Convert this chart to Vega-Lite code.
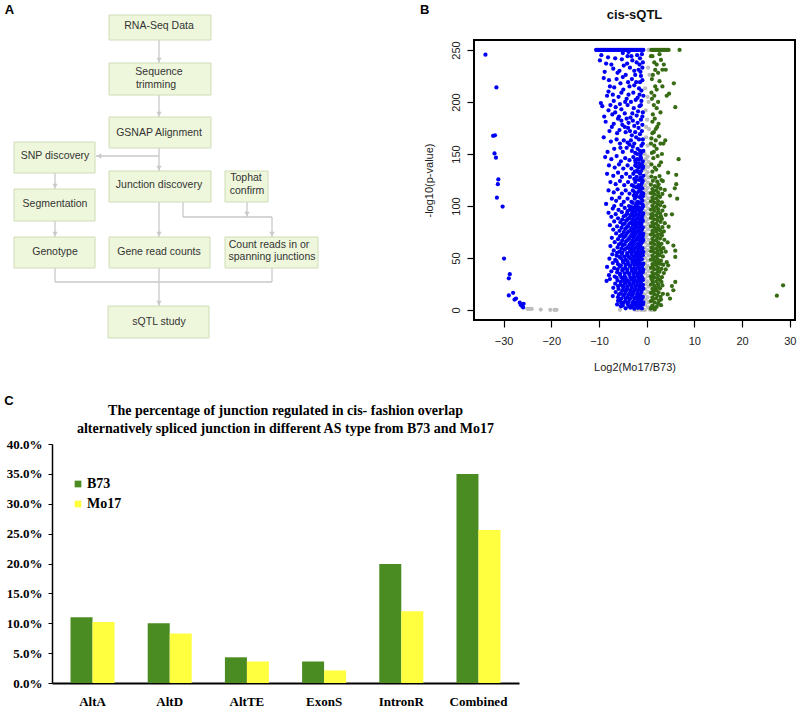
{
"$schema":"https://vega.github.io/schema/vega-lite/v6.json",
"background":"white",
"padding":{"left":4,"top":4,"right":0,"bottom":0},
"autosize":{"type":"pad"},
"bounds":"flush",
"columns":2,
"align":{"row":"each","column":"none"},
"spacing":{"row":124,"column":-45},
"config":{"view":{"stroke":null},"font":"Liberation Sans"},
"datasets":{
"boxes":[
{"x1":109,"x2":211,"y1":16,"y2":41},
{"x1":109,"x2":211,"y1":64,"y2":96},
{"x1":109,"x2":211,"y1":118,"y2":149},
{"x1":14,"x2":95,"y1":143,"y2":174},
{"x1":109,"x2":211,"y1":172,"y2":203},
{"x1":225,"x2":268,"y1":172,"y2":203},
{"x1":14,"x2":95,"y1":190,"y2":222},
{"x1":14,"x2":95,"y1":238,"y2":269},
{"x1":109,"x2":210,"y1":238,"y2":269},
{"x1":225,"x2":318,"y1":238,"y2":269},
{"x1":108,"x2":209,"y1":307,"y2":339}
],
"links":[
{"x1":159,"y1":41,"x2":159,"y2":64},
{"x1":159,"y1":96,"x2":159,"y2":118},
{"x1":159,"y1":149,"x2":159,"y2":172},
{"x1":159,"y1":157,"x2":96,"y2":157},
{"x1":55,"y1":174,"x2":55,"y2":190},
{"x1":55,"y1":222,"x2":55,"y2":238},
{"x1":159,"y1":203,"x2":159,"y2":238},
{"x1":183,"y1":203,"x2":183,"y2":218},
{"x1":183,"y1":218,"x2":272,"y2":218},
{"x1":272,"y1":218,"x2":272,"y2":238},
{"x1":247,"y1":203,"x2":247,"y2":218},
{"x1":55,"y1":269,"x2":55,"y2":283},
{"x1":55,"y1":283,"x2":272,"y2":283},
{"x1":272,"y1":283,"x2":272,"y2":269},
{"x1":159,"y1":269,"x2":159,"y2":307}
],
"arrows":[
{"x":159,"y":61,"dir":"down"},
{"x":159,"y":115,"dir":"down"},
{"x":159,"y":169,"dir":"down"},
{"x":55,"y":187,"dir":"down"},
{"x":55,"y":235,"dir":"down"},
{"x":159,"y":235,"dir":"down"},
{"x":272,"y":235,"dir":"down"},
{"x":247,"y":215,"dir":"down"},
{"x":159,"y":304,"dir":"down"},
{"x":99,"y":157,"dir":"left"}
],
"boxtext":[
{"x":159,"y":27,"t":"RNA-Seq Data"},
{"x":159,"y":73,"t":"Sequence"},
{"x":156,"y":86,"t":"trimming"},
{"x":159,"y":134,"t":"GSNAP Alignment"},
{"x":55,"y":157,"t":"SNP discovery"},
{"x":159,"y":186,"t":"Junction discovery"},
{"x":246,"y":179,"t":"Tophat"},
{"x":247,"y":192,"t":"confirm"},
{"x":55,"y":205,"t":"Segmentation"},
{"x":55,"y":253,"t":"Genotype"},
{"x":159,"y":253,"t":"Gene read counts"},
{"x":269,"y":246,"t":"Count reads in or"},
{"x":272,"y":258,"t":"spanning junctions"},
{"x":159,"y":323,"t":"sQTL study"}
],
"letters":[
{"x":9.5,"y":11,"t":"A"},
{"x":424.7,"y":11,"t":"B"},
{"x":9,"y":402,"t":"C"}
],
"bars":[
{"type":"AltA","line":"B73","pct":0.110},
{"type":"AltA","line":"Mo17","pct":0.102},
{"type":"AltD","line":"B73","pct":0.100},
{"type":"AltD","line":"Mo17","pct":0.083},
{"type":"AltTE","line":"B73","pct":0.043},
{"type":"AltTE","line":"Mo17","pct":0.036},
{"type":"ExonS","line":"B73","pct":0.036},
{"type":"ExonS","line":"Mo17","pct":0.021},
{"type":"IntronR","line":"B73","pct":0.199},
{"type":"IntronR","line":"Mo17","pct":0.120},
{"type":"Combined","line":"B73","pct":0.350},
{"type":"Combined","line":"Mo17","pct":0.256}
],
"gray":[
{"x":-0.4,"y":0},{"x":-0.3,"y":5},{"x":-0.2,"y":10},{"x":-0.4,"y":15},{"x":-0.3,"y":20},{"x":-0.2,"y":25},{"x":-0.4,"y":30},{"x":-0.3,"y":35},{"x":-0.2,"y":40},{"x":-0.4,"y":45},{"x":-0.3,"y":50},{"x":-0.2,"y":55},{"x":-0.4,"y":60},{"x":-0.3,"y":65},{"x":-0.2,"y":70},{"x":-0.4,"y":75},{"x":-0.3,"y":80},{"x":-0.2,"y":85},{"x":-0.4,"y":90},{"x":-0.3,"y":95},{"x":-0.2,"y":100},{"x":-0.4,"y":105},{"x":-0.3,"y":110},{"x":-0.2,"y":115},{"x":-0.4,"y":120},{"x":-0.3,"y":125},{"x":-0.2,"y":130},{"x":-0.4,"y":135},{"x":-0.3,"y":140},{"x":-0.2,"y":145},{"x":-0.4,"y":150},
{"x":0.3,"y":2.5},{"x":0.4,"y":7.5},{"x":0.2,"y":12.5},{"x":0.3,"y":17.5},{"x":0.4,"y":22.5},{"x":0.2,"y":27.5},{"x":0.3,"y":32.5},{"x":0.4,"y":37.5},{"x":0.2,"y":42.5},{"x":0.3,"y":47.5},{"x":0.4,"y":52.5},{"x":0.2,"y":57.5},{"x":0.3,"y":62.5},{"x":0.4,"y":67.5},{"x":0.2,"y":72.5},{"x":0.3,"y":77.5},{"x":0.4,"y":82.5},{"x":0.2,"y":87.5},{"x":0.3,"y":92.5},{"x":0.4,"y":97.5},{"x":0.2,"y":102.5},{"x":0.3,"y":107.5},{"x":0.4,"y":112.5},{"x":0.2,"y":117.5},{"x":0.3,"y":122.5},{"x":0.4,"y":127.5},{"x":0.2,"y":132.5},{"x":0.3,"y":137.5},{"x":0.4,"y":142.5},{"x":0.2,"y":147.5},
{"x":0.2,"y":158},{"x":-0.1,"y":166},{"x":0.5,"y":174},{"x":0.1,"y":183},{"x":-0.2,"y":192},{"x":0.4,"y":200},{"x":-0.3,"y":213},{"x":0.6,"y":226},{"x":0.3,"y":233},{"x":0.4,"y":250},{"x":0.7,"y":250},{"x":-0.1,"y":176},{"x":0.2,"y":205},
{"x":-2.5,"y":0.3},{"x":-2.0,"y":0.1},{"x":-1.6,"y":0.5},{"x":-1.2,"y":0.2},{"x":-0.8,"y":0.4},{"x":0.7,"y":0.3},{"x":1.1,"y":0.1},{"x":1.5,"y":0.4},{"x":-5.6,"y":0.2},
{"x":-25,"y":1.2},{"x":-24.6,"y":1.1},{"x":-24.1,"y":1.0},{"x":-22.2,"y":0.4},{"x":-20.2,"y":0.2},{"x":-18.9,"y":0.2},{"x":-19.3,"y":0.1}
],
"blue":[
{"x":-10.6,"y":250},{"x":-10.3,"y":250},{"x":-10,"y":250},{"x":-9.7,"y":250},{"x":-9.4,"y":250},{"x":-9.1,"y":250},{"x":-8.8,"y":250},{"x":-8.5,"y":250},{"x":-8.2,"y":250},{"x":-7.9,"y":250},{"x":-7.6,"y":250},{"x":-7.3,"y":250},{"x":-7,"y":250},{"x":-6.7,"y":250},{"x":-6.4,"y":250},{"x":-6.1,"y":250},{"x":-5.8,"y":250},{"x":-5.5,"y":250},{"x":-5.2,"y":250},{"x":-4.9,"y":250},{"x":-4.6,"y":250},{"x":-4.3,"y":250},{"x":-4,"y":250},{"x":-3.7,"y":250},{"x":-3.4,"y":250},{"x":-3.1,"y":250},{"x":-2.8,"y":250},{"x":-2.5,"y":250},{"x":-2.2,"y":250},{"x":-1.9,"y":250},{"x":-1.6,"y":250},{"x":-1.3,"y":250},{"x":-1,"y":250},{"x":-0.7,"y":250},
{"x":-33.8,"y":245.5},{"x":-31.5,"y":214},{"x":-32.2,"y":167.5},{"x":-31.8,"y":168},{"x":-31.9,"y":150.5},{"x":-31.6,"y":146.5},{"x":-31.1,"y":125.5},{"x":-31.2,"y":121},{"x":-31.4,"y":108},{"x":-30.2,"y":99.5},{"x":-29.9,"y":49.5},{"x":-28.7,"y":34.5},{"x":-28.9,"y":30.5},{"x":-28.0,"y":16.5},{"x":-28.9,"y":14},{"x":-27.4,"y":11},{"x":-27.7,"y":10},{"x":-26.6,"y":7},{"x":-25.8,"y":6},{"x":-26.2,"y":4},{"x":-25.9,"y":2.5},{"x":-26.4,"y":5},
{"x":-9.5,"y":245},{"x":-8.1,"y":243},{"x":-6.6,"y":242},{"x":-5.2,"y":241},{"x":-4.0,"y":244},{"x":-3.0,"y":240},{"x":-2.1,"y":238},{"x":-1.4,"y":242},{"x":-7.4,"y":236},{"x":-4.8,"y":235},{"x":-3.5,"y":233},{"x":-2.6,"y":230},{"x":-1.7,"y":231},{"x":-8.8,"y":229},{"x":-6.1,"y":228},{"x":-4.4,"y":226},{"x":-1.2,"y":225},{"x":-3.1,"y":222},{"x":-2.2,"y":219},{"x":-5.5,"y":218},{"x":-7.7,"y":215},{"x":-6.8,"y":214},{"x":-4.9,"y":212},{"x":-3.6,"y":215},{"x":-1.6,"y":213},{"x":-2.8,"y":209},{"x":-8.3,"y":206},{"x":-5.9,"y":205},{"x":-4.2,"y":203},{"x":-1.9,"y":204},{"x":-1.1,"y":201},{"x":-3.3,"y":200},{"x":-6.9,"y":201},{"x":-7.9,"y":221},{"x":-9.0,"y":223},{"x":-2.4,"y":226},{"x":-0.9,"y":233},{"x":-5.0,"y":247},{"x":-3.8,"y":248},
{"x":-9.8,"y":240},{"x":-8.5,"y":237},{"x":-7.0,"y":232},{"x":-5.7,"y":230},{"x":-4.1,"y":237},{"x":-3.2,"y":244},{"x":-2.0,"y":245},{"x":-1.5,"y":236},{"x":-6.3,"y":222},{"x":-5.0,"y":224},{"x":-3.9,"y":219},{"x":-2.6,"y":216},{"x":-1.4,"y":219},{"x":-8.0,"y":210},{"x":-7.1,"y":207},{"x":-5.3,"y":209},{"x":-3.8,"y":207},{"x":-2.3,"y":202},{"x":-1.5,"y":207},{"x":-9.6,"y":199},{"x":-7.6,"y":197},{"x":-5.6,"y":198},{"x":-4.5,"y":200},{"x":-3.0,"y":189},{"x":-1.8,"y":191},{"x":-6.6,"y":190},{"x":-8.9,"y":186},{"x":-5.3,"y":182},{"x":-4.2,"y":184},{"x":-2.9,"y":182},{"x":-1.9,"y":180},{"x":-7.3,"y":176},{"x":-5.7,"y":173},{"x":-4.6,"y":176},{"x":-3.5,"y":172},{"x":-2.4,"y":171},{"x":-1.6,"y":164},{"x":-3.3,"y":163},{"x":-2.6,"y":160},{"x":-6.3,"y":164},{"x":-4.0,"y":161},{"x":-1.4,"y":153},{"x":-3.1,"y":153},{"x":-5.5,"y":156},
{"x":-9.3,"y":196},{"x":-8.0,"y":192},{"x":-6.5,"y":195},{"x":-5.3,"y":193},{"x":-4.0,"y":197},{"x":-2.7,"y":194},{"x":-1.5,"y":196},{"x":-0.8,"y":190},{"x":-7.2,"y":188},{"x":-5.8,"y":186},{"x":-4.6,"y":189},{"x":-3.4,"y":185},{"x":-2.1,"y":187},{"x":-1.2,"y":183},{"x":-8.6,"y":181},{"x":-6.9,"y":179},{"x":-5.1,"y":178},{"x":-3.8,"y":180},{"x":-2.6,"y":177},{"x":-1.7,"y":175},{"x":-0.9,"y":178},{"x":-7.8,"y":172},{"x":-6.2,"y":170},{"x":-4.4,"y":171},{"x":-3.1,"y":168},{"x":-2.2,"y":166},{"x":-1.4,"y":169},{"x":-0.8,"y":164},{"x":-9.0,"y":166},{"x":-7.5,"y":162},{"x":-5.6,"y":160},{"x":-4.8,"y":163},{"x":-3.6,"y":159},{"x":-2.9,"y":157},{"x":-1.9,"y":155},{"x":-1.1,"y":158},{"x":-6.8,"y":155},{"x":-8.2,"y":152},{"x":-5.0,"y":152},{"x":-2.4,"y":151},{"x":-0.7,"y":153},{"x":-3.9,"y":175},{"x":-6.0,"y":184},{"x":-4.2,"y":156},
{"x":-1.0,"y":246},{"x":-0.8,"y":238},{"x":-1.3,"y":229},{"x":-0.9,"y":221},{"x":-1.1,"y":211},{"x":-0.7,"y":206},{"x":-1.2,"y":197},{"x":-0.9,"y":186},{"x":-1.0,"y":172},{"x":-0.8,"y":160},
{"x":-8.7,"y":147},{"x":-7.4,"y":145},{"x":-6.3,"y":148},{"x":-5.4,"y":143},{"x":-4.5,"y":146},{"x":-3.6,"y":144},{"x":-2.8,"y":147},{"x":-2.0,"y":145},{"x":-1.3,"y":148},{"x":-0.8,"y":143},
{"x":-7.9,"y":139},{"x":-6.7,"y":137},{"x":-5.8,"y":140},{"x":-4.9,"y":136},{"x":-4.0,"y":139},{"x":-3.2,"y":136},{"x":-2.4,"y":139},{"x":-1.7,"y":137},{"x":-1.0,"y":140},
{"x":-8.3,"y":131},{"x":-7.0,"y":129},{"x":-6.0,"y":132},{"x":-5.2,"y":128},{"x":-4.3,"y":131},{"x":-3.5,"y":128},{"x":-2.8,"y":131},{"x":-2.1,"y":128},{"x":-1.4,"y":131},{"x":-0.7,"y":129},
{"x":-7.6,"y":123},{"x":-6.5,"y":121},{"x":-5.6,"y":124},{"x":-4.7,"y":120},{"x":-3.9,"y":123},{"x":-3.1,"y":120},{"x":-2.4,"y":123},{"x":-1.7,"y":120},{"x":-1.0,"y":122},
{"x":-8.0,"y":115},{"x":-6.9,"y":113},{"x":-6.1,"y":116},{"x":-5.2,"y":112},{"x":-4.4,"y":115},{"x":-3.6,"y":112},{"x":-2.9,"y":115},{"x":-2.1,"y":112},{"x":-1.4,"y":115},{"x":-0.7,"y":112},
{"x":-7.3,"y":107},{"x":-6.4,"y":105},{"x":-5.7,"y":108},{"x":-4.8,"y":104},{"x":-4.0,"y":107},{"x":-3.2,"y":104},{"x":-2.5,"y":107},{"x":-1.8,"y":104},{"x":-1.1,"y":107},
{"x":-8.5,"y":102},{"x":-6.8,"y":100},{"x":-5.3,"y":101},{"x":-3.7,"y":100},{"x":-2.2,"y":101},{"x":-0.8,"y":101},{"x":-1.5,"y":125},{"x":-2.0,"y":134},{"x":-0.9,"y":117},
{"x":-1.2,"y":146},{"x":-2.3,"y":142},{"x":-1.6,"y":141},{"x":-0.9,"y":136},{"x":-1.9,"y":133},{"x":-2.6,"y":126},{"x":-1.3,"y":127},{"x":-0.8,"y":124},{"x":-2.2,"y":118},{"x":-1.6,"y":117},{"x":-2.7,"y":110},{"x":-1.2,"y":110},{"x":-0.9,"y":105},{"x":-1.9,"y":102},
{"x":-2.9,"y":103},{"x":-2.0,"y":103.5},{"x":-1.3,"y":102.8},{"x":-2.2,"y":109},{"x":-1.5,"y":108.6},{"x":-0.8,"y":109.4},{"x":-2.5,"y":113},{"x":-1.7,"y":113.6},{"x":-1.0,"y":112.8},{"x":-2.7,"y":119},{"x":-1.9,"y":118.5},{"x":-1.2,"y":119.3},{"x":-2.2,"y":125},{"x":-1.0,"y":125.6},{"x":-2.5,"y":133},{"x":-1.2,"y":133.4},{"x":-2.1,"y":138},{"x":-1.3,"y":138.5},{"x":-0.7,"y":137.6},{"x":-2.4,"y":144},{"x":-1.6,"y":144.5},{"x":-2.0,"y":150},{"x":-1.2,"y":150.6},
{"x":-7.1,"y":97.5},{"x":-5.9,"y":96.2},{"x":-4.6,"y":98.1},{"x":-3.5,"y":96.8},{"x":-2.6,"y":97.9},{"x":-1.8,"y":96.4},{"x":-1.0,"y":97.6},
{"x":-8.0,"y":93.4},{"x":-6.5,"y":92.1},{"x":-5.2,"y":94.0},{"x":-4.1,"y":92.6},{"x":-3.0,"y":93.8},{"x":-2.2,"y":92.3},{"x":-1.4,"y":93.5},{"x":-0.7,"y":92.8},
{"x":-7.4,"y":89.6},{"x":-6.0,"y":88.2},{"x":-4.8,"y":90.1},{"x":-3.6,"y":88.7},{"x":-2.7,"y":89.9},{"x":-1.9,"y":88.4},{"x":-1.1,"y":89.3},
{"x":-6.8,"y":85.2},{"x":-5.5,"y":84.4},{"x":-4.3,"y":86.0},{"x":-3.2,"y":84.6},{"x":-2.4,"y":85.7},{"x":-1.6,"y":84.3},{"x":-0.8,"y":85.5},
{"x":-7.7,"y":81.5},{"x":-6.2,"y":80.3},{"x":-5.0,"y":82.0},{"x":-3.9,"y":80.6},{"x":-2.9,"y":81.8},{"x":-2.1,"y":80.2},{"x":-1.3,"y":81.4},
{"x":-7.0,"y":77.3},{"x":-5.7,"y":76.2},{"x":-4.5,"y":78.0},{"x":-3.4,"y":76.5},{"x":-2.6,"y":77.7},{"x":-1.8,"y":76.1},{"x":-1.0,"y":77.2},
{"x":-6.4,"y":73.6},{"x":-5.2,"y":72.3},{"x":-4.1,"y":74.0},{"x":-3.1,"y":72.5},{"x":-2.3,"y":73.8},{"x":-1.5,"y":72.2},{"x":-0.7,"y":73.3},
{"x":-7.3,"y":69.4},{"x":-6.0,"y":68.1},{"x":-4.8,"y":70.0},{"x":-3.7,"y":68.6},{"x":-2.8,"y":69.7},{"x":-2.0,"y":68.3},{"x":-1.2,"y":69.5},
{"x":-6.7,"y":65.2},{"x":-5.4,"y":64.3},{"x":-4.3,"y":66.0},{"x":-3.3,"y":64.5},{"x":-2.5,"y":65.8},{"x":-1.7,"y":64.1},{"x":-0.9,"y":65.4},
{"x":-7.6,"y":61.5},{"x":-6.1,"y":60.2},{"x":-5.0,"y":62.0},{"x":-3.9,"y":60.6},{"x":-3.0,"y":61.8},{"x":-2.2,"y":60.3},{"x":-1.4,"y":61.3},
{"x":-6.9,"y":57.3},{"x":-5.7,"y":56.1},{"x":-4.6,"y":58.0},{"x":-3.5,"y":56.6},{"x":-2.7,"y":57.7},{"x":-1.9,"y":56.2},{"x":-1.1,"y":57.4},{"x":-0.7,"y":55.9},
{"x":-7.2,"y":53.5},{"x":-6.3,"y":52.2},{"x":-5.2,"y":54.0},{"x":-4.1,"y":52.6},{"x":-3.2,"y":53.8},{"x":-2.4,"y":52.3},{"x":-1.6,"y":53.3},{"x":-0.8,"y":52.7},
{"x":-1.5,"y":95.1},{"x":-0.9,"y":87.2},{"x":-1.4,"y":79.3},{"x":-0.8,"y":71.1},{"x":-1.6,"y":63.0},{"x":-1.0,"y":55.2},{"x":-2.0,"y":99.0},{"x":-3.0,"y":90.9},{"x":-2.4,"y":75.2},{"x":-3.3,"y":59.1},
{"x":-7.8,"y":49.3},{"x":-6.6,"y":48.2},{"x":-5.4,"y":49.9},{"x":-4.4,"y":48.5},{"x":-3.4,"y":49.6},{"x":-2.6,"y":48.1},{"x":-1.8,"y":49.4},{"x":-1.0,"y":48.7},
{"x":-7.1,"y":45.2},{"x":-6.0,"y":44.1},{"x":-4.9,"y":45.9},{"x":-3.9,"y":44.4},{"x":-3.0,"y":45.6},{"x":-2.2,"y":44.2},{"x":-1.4,"y":45.3},{"x":-0.7,"y":44.6},
{"x":-8.3,"y":41.4},{"x":-6.8,"y":40.2},{"x":-5.6,"y":41.8},{"x":-4.5,"y":40.5},{"x":-3.5,"y":41.6},{"x":-2.6,"y":40.1},{"x":-1.8,"y":41.3},{"x":-1.0,"y":40.7},
{"x":-7.4,"y":37.2},{"x":-6.2,"y":36.3},{"x":-5.1,"y":37.9},{"x":-4.0,"y":36.4},{"x":-3.1,"y":37.6},{"x":-2.3,"y":36.2},{"x":-1.5,"y":37.4},{"x":-0.8,"y":36.6},
{"x":-7.9,"y":33.5},{"x":-6.7,"y":32.2},{"x":-5.6,"y":33.8},{"x":-4.6,"y":32.4},{"x":-3.6,"y":33.7},{"x":-2.7,"y":32.1},{"x":-1.9,"y":33.3},{"x":-1.1,"y":32.6},
{"x":-7.7,"y":29.8},{"x":-6.1,"y":28.3},{"x":-5.0,"y":29.9},{"x":-4.1,"y":28.5},{"x":-3.2,"y":29.6},{"x":-2.4,"y":28.2},{"x":-1.6,"y":29.4},{"x":-0.8,"y":28.7},
{"x":-6.6,"y":25.3},{"x":-5.5,"y":24.2},{"x":-4.5,"y":25.8},{"x":-3.6,"y":24.4},{"x":-2.8,"y":25.6},{"x":-2.0,"y":24.1},{"x":-1.2,"y":25.2},
{"x":-7.0,"y":21.4},{"x":-5.9,"y":20.3},{"x":-4.9,"y":21.9},{"x":-4.0,"y":20.5},{"x":-3.1,"y":21.7},{"x":-2.3,"y":20.2},{"x":-1.5,"y":21.3},{"x":-0.7,"y":20.6},
{"x":-6.5,"y":17.2},{"x":-5.4,"y":16.3},{"x":-4.4,"y":17.8},{"x":-3.5,"y":16.4},{"x":-2.7,"y":17.6},{"x":-1.9,"y":16.2},{"x":-1.1,"y":17.3},
{"x":-7.1,"y":13.4},{"x":-6.0,"y":12.3},{"x":-4.9,"y":13.9},{"x":-4.0,"y":12.5},{"x":-3.1,"y":13.6},{"x":-2.3,"y":12.2},{"x":-1.5,"y":13.3},{"x":-0.8,"y":12.6},
{"x":-5.6,"y":9.2},{"x":-4.5,"y":8.3},{"x":-3.6,"y":9.8},{"x":-2.7,"y":8.4},{"x":-1.9,"y":9.6},{"x":-1.1,"y":8.2},
{"x":-6.2,"y":5.4},{"x":-5.0,"y":4.3},{"x":-4.0,"y":5.9},{"x":-3.1,"y":4.5},{"x":-2.3,"y":5.6},{"x":-1.5,"y":4.2},{"x":-0.8,"y":5.3},
{"x":-4.4,"y":1.6},{"x":-3.4,"y":2.2},{"x":-2.6,"y":1.3},{"x":-1.8,"y":2.0},{"x":-1.0,"y":1.5},
{"x":-8.4,"y":28.0},{"x":-6.0,"y":8.8},{"x":-5.3,"y":6.6},{"x":-1.4,"y":11.0},{"x":-0.9,"y":23.0},{"x":-1.3,"y":35.0},{"x":-0.9,"y":43.0},{"x":-2.0,"y":47.0},
{"x":-5.4,"y":3.5},{"x":-3.8,"y":3.8},{"x":-2.9,"y":3.2},{"x":-2.0,"y":3.6},{"x":-1.3,"y":3.1},
{"x":-4.9,"y":7.0},{"x":-3.9,"y":7.3},{"x":-3.0,"y":6.8},{"x":-2.1,"y":7.2},{"x":-1.4,"y":6.9},{"x":-0.7,"y":7.4},
{"x":-5.3,"y":11.0},{"x":-4.4,"y":11.3},{"x":-3.5,"y":10.8},{"x":-2.6,"y":11.2},{"x":-1.8,"y":10.9},{"x":-1.0,"y":11.4},
{"x":-5.8,"y":15.0},{"x":-4.6,"y":15.3},{"x":-3.8,"y":14.8},{"x":-2.9,"y":15.2},{"x":-2.0,"y":14.9},{"x":-1.3,"y":15.4},
{"x":-5.1,"y":19.0},{"x":-4.3,"y":19.3},{"x":-3.4,"y":18.8},{"x":-2.6,"y":19.2},{"x":-1.8,"y":18.9},{"x":-1.0,"y":19.4},
{"x":-6.0,"y":23.0},{"x":-5.0,"y":23.3},{"x":-4.1,"y":22.8},{"x":-3.2,"y":23.2},{"x":-2.3,"y":22.9},{"x":-1.6,"y":23.4},{"x":-0.8,"y":24.2},
{"x":-5.4,"y":27.0},{"x":-4.6,"y":27.3},{"x":-3.7,"y":26.8},{"x":-2.8,"y":27.2},{"x":-2.0,"y":26.9},{"x":-1.2,"y":27.4},
{"x":-6.3,"y":31.0},{"x":-5.3,"y":31.3},{"x":-4.4,"y":30.8},{"x":-3.4,"y":31.2},{"x":-2.5,"y":30.9},{"x":-1.7,"y":31.4},{"x":-0.9,"y":30.6},
{"x":-5.6,"y":35.0},{"x":-4.6,"y":35.3},{"x":-3.6,"y":34.8},{"x":-2.7,"y":35.2},{"x":-1.9,"y":34.9},{"x":-1.1,"y":35.4},
{"x":-6.1,"y":39.0},{"x":-5.0,"y":39.3},{"x":-4.1,"y":38.8},{"x":-3.1,"y":39.2},{"x":-2.3,"y":38.9},{"x":-1.5,"y":39.4},{"x":-0.7,"y":38.6},
{"x":-5.4,"y":43.0},{"x":-4.4,"y":43.3},{"x":-3.4,"y":42.8},{"x":-2.6,"y":43.2},{"x":-1.8,"y":42.9},{"x":-1.1,"y":43.4},
{"x":-6.3,"y":47.0},{"x":-5.0,"y":47.3},{"x":-4.0,"y":46.8},{"x":-3.0,"y":47.2},{"x":-2.3,"y":46.9},{"x":-1.5,"y":47.4},
{"x":-5.7,"y":51.0},{"x":-4.7,"y":51.3},{"x":-3.7,"y":50.8},{"x":-2.8,"y":51.2},{"x":-2.0,"y":50.9},{"x":-1.2,"y":51.4},
{"x":-6.2,"y":55.0},{"x":-5.1,"y":55.3},{"x":-4.1,"y":54.8},{"x":-3.1,"y":55.2},{"x":-2.3,"y":54.9},{"x":-1.5,"y":55.4},
{"x":-5.3,"y":59.0},{"x":-4.3,"y":59.3},{"x":-3.5,"y":58.8},{"x":-2.6,"y":59.2},{"x":-1.8,"y":58.9},{"x":-0.9,"y":59.4},
{"x":-5.8,"y":63.0},{"x":-4.6,"y":63.3},{"x":-3.6,"y":62.8},{"x":-2.8,"y":63.2},{"x":-2.0,"y":62.9},{"x":-1.2,"y":63.4},
{"x":-5.1,"y":67.0},{"x":-4.0,"y":67.3},{"x":-3.0,"y":66.8},{"x":-2.2,"y":67.2},{"x":-1.4,"y":66.9},{"x":-0.7,"y":67.4},
{"x":-5.6,"y":71.0},{"x":-4.4,"y":71.3},{"x":-3.4,"y":70.8},{"x":-2.5,"y":71.2},{"x":-1.7,"y":70.9},{"x":-1.0,"y":71.4},
{"x":-4.8,"y":75.0},{"x":-3.8,"y":75.3},{"x":-2.9,"y":74.8},{"x":-2.0,"y":75.2},{"x":-1.2,"y":74.9},
{"x":-5.3,"y":79.0},{"x":-4.2,"y":79.3},{"x":-3.2,"y":78.8},{"x":-2.4,"y":79.2},{"x":-1.6,"y":78.9},{"x":-0.8,"y":79.4},
{"x":-4.6,"y":83.0},{"x":-3.6,"y":83.3},{"x":-2.6,"y":82.8},{"x":-1.9,"y":83.2},{"x":-1.1,"y":82.9},
{"x":-5.1,"y":87.0},{"x":-4.0,"y":87.3},{"x":-3.0,"y":86.8},{"x":-2.2,"y":87.2},{"x":-1.4,"y":86.9},
{"x":-4.4,"y":91.0},{"x":-3.4,"y":91.3},{"x":-2.5,"y":90.8},{"x":-1.7,"y":91.2},{"x":-0.9,"y":90.9},
{"x":-4.0,"y":95.0},{"x":-3.0,"y":95.3},{"x":-2.3,"y":94.8},{"x":-1.2,"y":95.2},
{"x":-3.2,"y":99.0},{"x":-2.4,"y":99.3},{"x":-1.6,"y":98.8},{"x":-0.8,"y":99.2}
],
"green":[
{"x":1.0,"y":250},{"x":1.3,"y":250},{"x":1.6,"y":250},{"x":1.9,"y":250},{"x":2.2,"y":250},{"x":2.5,"y":250},{"x":2.8,"y":250},{"x":3.1,"y":250},{"x":3.4,"y":250},{"x":3.7,"y":250},{"x":4.0,"y":250},{"x":4.3,"y":250},{"x":4.6,"y":250},{"x":6.9,"y":250},
{"x":3.0,"y":240.4},{"x":2.1,"y":236},{"x":4.0,"y":231},{"x":1.8,"y":230.8},{"x":3.3,"y":231},{"x":5.7,"y":218},{"x":4.7,"y":208},{"x":4.2,"y":206},{"x":1.8,"y":215},{"x":2.1,"y":212},{"x":1.1,"y":203},{"x":6.0,"y":195},{"x":1.5,"y":197},{"x":2.9,"y":190},{"x":2.5,"y":179},{"x":1.9,"y":174},{"x":1.5,"y":171},{"x":3.9,"y":163},{"x":3.5,"y":160},{"x":2.1,"y":155},{"x":1.5,"y":152},{"x":6.7,"y":145},{"x":6.2,"y":130},{"x":6.2,"y":121},{"x":5.9,"y":117},{"x":6.4,"y":107},{"x":4.9,"y":110},{"x":4.5,"y":132},{"x":3.4,"y":124},{"x":5.3,"y":92},{"x":5.6,"y":62},{"x":6.0,"y":57},{"x":6.0,"y":51},{"x":4.4,"y":65},{"x":4.2,"y":46},{"x":4.5,"y":43},{"x":4.0,"y":39},{"x":6.0,"y":27},{"x":5.3,"y":23},{"x":5.6,"y":19},{"x":4.4,"y":15},{"x":4.9,"y":11},
{"x":1.0,"y":140},{"x":1.4,"y":146},{"x":0.9,"y":160},{"x":1.2,"y":181},{"x":2.6,"y":167},{"x":1.7,"y":137},{"x":3.0,"y":142},{"x":2.3,"y":148},{"x":1.1,"y":222},{"x":0.9,"y":244},{"x":1.3,"y":188},{"x":2.4,"y":200},{"x":1.0,"y":165},{"x":1.6,"y":158},{"x":3.2,"y":150},
{"x":1.2,"y":133},{"x":2.0,"y":135},{"x":2.6,"y":139},{"x":1.1,"y":151},{"x":1.9,"y":163},{"x":1.2,"y":170},{"x":2.2,"y":176},{"x":1.7,"y":184},{"x":2.1,"y":194},{"x":1.0,"y":209},{"x":1.6,"y":206},{"x":2.7,"y":220},{"x":1.3,"y":226},{"x":2.4,"y":228},{"x":1.6,"y":238},{"x":1.2,"y":244},{"x":2.7,"y":246},{"x":3.6,"y":236},{"x":3.3,"y":215},{"x":2.9,"y":160},
{"x":1.0,"y":128.3},{"x":1.8,"y":127.1},{"x":2.7,"y":128.8},
{"x":1.3,"y":124.2},{"x":2.2,"y":123.4},{"x":3.1,"y":124.9},
{"x":0.9,"y":120.5},{"x":1.7,"y":119.2},{"x":2.5,"y":120.8},
{"x":1.2,"y":116.3},{"x":2.0,"y":115.1},{"x":2.9,"y":116.7},{"x":3.8,"y":115.5},
{"x":0.9,"y":112.4},{"x":1.6,"y":111.2},{"x":2.4,"y":112.9},{"x":3.3,"y":111.6},
{"x":1.2,"y":108.2},{"x":2.0,"y":107.3},{"x":2.8,"y":108.7},
{"x":0.9,"y":104.5},{"x":1.6,"y":103.2},{"x":2.4,"y":104.8},{"x":3.2,"y":103.6},
{"x":1.2,"y":100.3},{"x":2.0,"y":99.1},{"x":2.8,"y":100.7},{"x":3.7,"y":99.5},
{"x":0.9,"y":96.4},{"x":1.6,"y":95.2},{"x":2.4,"y":96.9},{"x":3.3,"y":95.6},
{"x":1.2,"y":92.2},{"x":2.0,"y":91.3},{"x":2.8,"y":92.7},{"x":4.0,"y":91.5},
{"x":0.9,"y":88.5},{"x":1.6,"y":87.2},{"x":2.4,"y":88.8},{"x":3.2,"y":87.6},
{"x":1.2,"y":84.3},{"x":2.0,"y":83.1},{"x":2.9,"y":84.7},{"x":3.8,"y":83.5},
{"x":0.9,"y":80.4},{"x":1.6,"y":79.2},{"x":2.4,"y":80.9},{"x":3.3,"y":79.6},{"x":4.6,"y":80.1},
{"x":1.2,"y":76.2},{"x":2.0,"y":75.3},{"x":2.8,"y":76.7},{"x":3.6,"y":75.5},
{"x":0.9,"y":72.5},{"x":1.6,"y":71.2},{"x":2.4,"y":72.8},{"x":3.2,"y":71.6},
{"x":1.2,"y":68.3},{"x":2.0,"y":67.1},{"x":2.8,"y":68.7},{"x":3.7,"y":67.5},
{"x":0.9,"y":64.4},{"x":1.6,"y":63.2},{"x":2.4,"y":64.9},{"x":3.1,"y":63.6},
{"x":1.2,"y":60.2},{"x":2.0,"y":59.3},{"x":2.7,"y":60.7},{"x":3.5,"y":59.5},
{"x":0.9,"y":56.5},{"x":1.6,"y":55.2},{"x":2.3,"y":56.8},{"x":3.1,"y":55.6},{"x":4.0,"y":56.1},
{"x":1.2,"y":52.3},{"x":2.0,"y":51.1},{"x":2.7,"y":52.7},{"x":3.4,"y":51.5},
{"x":0.9,"y":48.4},{"x":1.6,"y":47.2},{"x":2.3,"y":48.9},{"x":3.0,"y":47.6},
{"x":1.2,"y":44.2},{"x":2.0,"y":43.3},{"x":2.7,"y":44.7},{"x":3.5,"y":43.5},
{"x":0.9,"y":40.5},{"x":1.6,"y":39.2},{"x":2.4,"y":40.8},{"x":3.1,"y":39.6},
{"x":1.2,"y":36.3},{"x":2.0,"y":35.1},{"x":2.7,"y":36.7},{"x":3.6,"y":35.5},
{"x":0.9,"y":32.4},{"x":1.6,"y":31.2},{"x":2.4,"y":32.9},{"x":3.2,"y":31.6},
{"x":1.2,"y":28.2},{"x":2.0,"y":27.3},{"x":2.8,"y":28.7},
{"x":0.9,"y":24.5},{"x":1.6,"y":23.2},{"x":2.4,"y":24.8},{"x":3.3,"y":23.6},
{"x":1.2,"y":20.3},{"x":2.0,"y":19.1},{"x":2.8,"y":20.7},
{"x":0.9,"y":16.4},{"x":1.6,"y":15.2},{"x":2.5,"y":16.9},{"x":3.4,"y":15.6},
{"x":1.2,"y":12.2},{"x":2.0,"y":11.3},{"x":2.9,"y":12.7},
{"x":0.9,"y":8.5},{"x":1.7,"y":7.2},{"x":2.6,"y":8.8},
{"x":1.2,"y":4.3},{"x":2.1,"y":3.1},{"x":3.0,"y":4.7},
{"x":0.9,"y":1.4},{"x":1.7,"y":0.6},
{"x":1.4,"y":2.2},{"x":2.4,"y":6.1},{"x":1.3,"y":10.3},{"x":2.2,"y":14.1},{"x":3.0,"y":10.0},{"x":1.4,"y":18.2},{"x":2.4,"y":22.3},{"x":1.3,"y":26.1},{"x":2.3,"y":30.2},{"x":3.1,"y":27.0},{"x":1.4,"y":34.1},{"x":2.3,"y":38.3},{"x":1.3,"y":42.2},{"x":2.4,"y":46.1},{"x":3.2,"y":44.0},{"x":1.4,"y":50.2},{"x":2.3,"y":54.0},{"x":1.3,"y":58.1},{"x":2.4,"y":62.3},{"x":3.0,"y":58.0},{"x":1.4,"y":66.2},{"x":2.3,"y":70.1},{"x":1.3,"y":74.2},{"x":2.4,"y":78.3},{"x":3.1,"y":73.5},{"x":1.4,"y":82.1},{"x":2.3,"y":86.2},{"x":1.3,"y":90.3},{"x":2.4,"y":94.1},{"x":3.0,"y":90.0},{"x":1.4,"y":98.2},{"x":2.3,"y":102.1},{"x":1.3,"y":106.2},{"x":2.4,"y":110.3},{"x":1.4,"y":114.1},{"x":2.3,"y":118.2},{"x":1.0,"y":2.5},{"x":1.0,"y":30.0},{"x":1.0,"y":60.0},{"x":1.0,"y":92.0},{"x":1.9,"y":45.0},{"x":1.9,"y":78.0},{"x":1.9,"y":20.0},
{"x":27.3,"y":13.8},{"x":28.6,"y":23.7}
]
},
"concat":[
{
"width":467,"height":280,
"layer":[
{"data":{"name":"links"},"mark":{"type":"rule","color":"#c9c9c9","strokeWidth":1.3},
 "encoding":{"x":{"field":"x1","type":"quantitative","scale":{"domain":[52,519],"nice":false,"zero":false},"axis":null},"x2":{"field":"x2"},
 "y":{"field":"y1","type":"quantitative","scale":{"domain":[41,321],"reverse":true,"nice":false,"zero":false},"axis":null},"y2":{"field":"y2"}}},
{"data":{"name":"boxes"},"mark":{"type":"rect","fill":"#eef7dc","stroke":"#cfdcb8","strokeWidth":1},
 "encoding":{"x":{"field":"x1","type":"quantitative","scale":{"domain":[52,519],"nice":false,"zero":false},"axis":null},"x2":{"field":"x2"},
 "y":{"field":"y1","type":"quantitative","scale":{"domain":[41,321],"reverse":true,"nice":false,"zero":false},"axis":null},"y2":{"field":"y2"}}},
{"data":{"name":"arrows"},"mark":{"type":"point","filled":true,"size":28,"color":"#c9c9c9","opacity":1},
 "encoding":{"x":{"field":"x","type":"quantitative","scale":{"domain":[52,519],"nice":false,"zero":false},"axis":null},
 "y":{"field":"y","type":"quantitative","scale":{"domain":[41,321],"reverse":true,"nice":false,"zero":false},"axis":null},
 "shape":{"field":"dir","type":"nominal","scale":{"domain":["down","left"],"range":["triangle-down","triangle-left"]},"legend":null}}},
{"data":{"name":"boxtext"},"mark":{"type":"text","font":"Liberation Sans","fontSize":10.5,"color":"#333333","align":"center","baseline":"middle"},
 "encoding":{"x":{"field":"x","type":"quantitative","scale":{"domain":[52,519],"nice":false,"zero":false},"axis":null},
 "y":{"field":"y","type":"quantitative","scale":{"domain":[41,321],"reverse":true,"nice":false,"zero":false},"axis":null},
 "text":{"field":"t","type":"nominal"}}},
{"data":{"name":"letters"},"mark":{"type":"text","font":"Liberation Sans","fontSize":13,"fontWeight":"bold","color":"#000000","align":"center","baseline":"middle"},
 "encoding":{"x":{"field":"x","type":"quantitative","scale":{"domain":[52,519],"nice":false,"zero":false},"axis":null},
 "y":{"field":"y","type":"quantitative","scale":{"domain":[41,321],"reverse":true,"nice":false,"zero":false},"axis":null},
 "text":{"field":"t","type":"nominal"}}}
]
},
{
"width":321,"height":280,
"view":{"stroke":"#000000","strokeWidth":2},
"title":{"text":"cis-sQTL","font":"Liberation Sans","fontSize":13,"fontWeight":"bold","color":"#111111","anchor":"middle","offset":18},
"encoding":{
 "x":{"field":"x","type":"quantitative","scale":{"domain":[-36.2,31.1],"nice":false,"zero":false},
  "axis":{"values":[-30,-20,-10,0,10,20,30],"domain":false,"grid":false,"tickColor":"#000000","tickSize":7,"tickWidth":1.2,"labelFont":"Liberation Sans","labelFontSize":11,"labelColor":"#222222","labelPadding":8,"labelFlush":false,"labelOverlap":false,"title":"Log2(Mo17/B73)","titleFont":"Liberation Sans","titleFontSize":11,"titleFontWeight":"normal","titleColor":"#222222","titlePadding":15}},
 "y":{"field":"y","type":"quantitative","scale":{"domain":[-9.6,259.6],"nice":false,"zero":false},
  "axis":{"values":[0,50,100,150,200,250],"domain":false,"grid":false,"tickColor":"#000000","tickSize":7,"tickWidth":1.2,"labelAngle":-90,"labelAlign":"center","labelBaseline":"bottom","labelPadding":6,"labelFont":"Liberation Sans","labelFontSize":11,"labelColor":"#222222","labelFlush":false,"labelOverlap":false,"title":"-log10(p-value)","titleFont":"Liberation Sans","titleFontSize":11,"titleFontWeight":"normal","titleColor":"#222222","titlePadding":16}}
},
"layer":[
 {"data":{"name":"gray"},"mark":{"type":"circle","size":18,"opacity":1,"color":"#bebebe"}},
 {"data":{"name":"blue"},"mark":{"type":"circle","size":18,"opacity":1,"color":"#0000f5"}},
 {"data":{"name":"green"},"mark":{"type":"circle","size":18,"opacity":1,"color":"#376b14"}}
]
},
{
"width":467,"height":239,
"data":{"name":"bars"},
"title":{"text":["The percentage of junction regulated in cis- fashion overlap","alternatively spliced junction in different AS type from B73 and Mo17"],"font":"Liberation Serif","fontSize":14,"fontWeight":"bold","lineHeight":18,"color":"#000000","anchor":"middle","offset":2},
"mark":{"type":"bar"},
"encoding":{
 "x":{"field":"type","type":"nominal","sort":["AltA","AltD","AltTE","ExonS","IntronR","Combined"],"scale":{"paddingInner":0.43,"paddingOuter":0.24},
  "axis":{"title":null,"labelAngle":0,"ticks":false,"tickSize":0,"domainColor":"#000000","domainWidth":2,"labelFont":"Liberation Serif","labelFontWeight":"bold","labelFontSize":13,"labelColor":"#000000","labelPadding":12}},
 "xOffset":{"field":"line","type":"nominal","sort":["B73","Mo17"],"scale":{"paddingInner":0,"paddingOuter":0}},
 "y":{"field":"pct","type":"quantitative","scale":{"domain":[0,0.4],"nice":false},
  "axis":{"values":[0,0.05,0.1,0.15,0.2,0.25,0.3,0.35,0.4],"format":".1%","title":null,"grid":false,"domainColor":"#000000","domainWidth":1.5,"tickColor":"#000000","tickSize":4,"labelFont":"Liberation Serif","labelFontWeight":"bold","labelFontSize":13,"labelColor":"#000000","labelPadding":6}},
 "color":{"field":"line","type":"nominal","sort":["B73","Mo17"],"scale":{"domain":["B73","Mo17"],"range":["#4a8b22","#ffff3f"]},
  "legend":{"title":null,"orient":"none","legendX":19,"legendY":437,"padding":0,"symbolType":"square","symbolSize":45,"symbolStrokeWidth":0,"labelFont":"Liberation Serif","labelFontWeight":"bold","labelFontSize":14,"labelColor":"#000000","rowPadding":6,"labelOffset":2}}
}
}
]
}
